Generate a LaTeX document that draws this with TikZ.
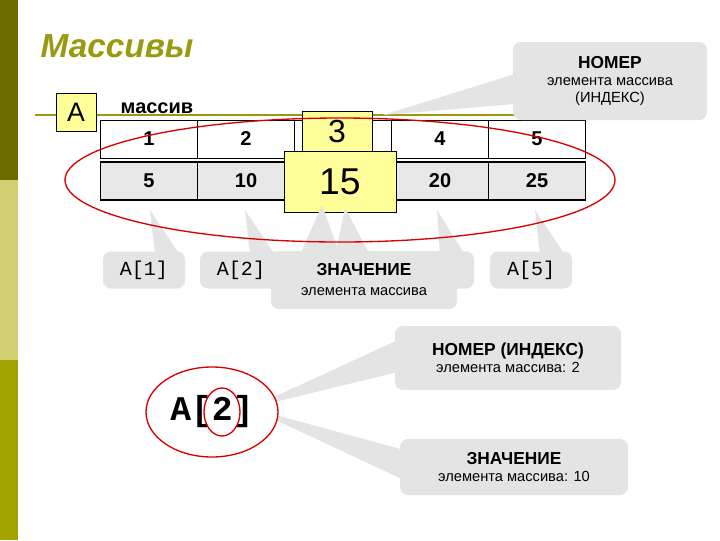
\documentclass[tikz,border=0pt]{standalone}
\usepackage{fontspec}
\setmainfont{Liberation Sans}
\newfontfamily\monof{Liberation Mono}
\definecolor{olivedark}{HTML}{6B6B00}
\definecolor{olivemid}{HTML}{D2D070}
\definecolor{olivebot}{HTML}{A3A300}
\definecolor{titlecol}{HTML}{9A9A10}
\definecolor{yel}{HTML}{FFFF99}
\definecolor{callg}{HTML}{E4E4E4}
\definecolor{cellg}{HTML}{E8E8E8}
\begin{document}
\begin{tikzpicture}[x=0.75pt,y=-0.75pt,
  cellbox/.style={draw=black,minimum width=97*0.75pt,minimum height=38*0.75pt,inner sep=0pt,font=\bfseries\fontsize{15}{15}\selectfont},
  valbox/.style={cellbox,fill=cellg,line width=1.2pt},
  hlbox/.style={draw=black,fill=yel,inner sep=0pt},
  callbox/.style={fill=callg,rounded corners=6pt,inner sep=0pt,align=center},
  tail/.style={fill=callg},
  redring/.style={draw=red!85!black,line width=1pt},
  small/.style={font=\fontsize{11}{13}\selectfont}]
\useasboundingbox (0,0) rectangle (720,540);
\fill[white] (0,0) rectangle (720,540);
\fill[olivedark] (0,0) rectangle (18,180);
\fill[olivemid] (0,180) rectangle (18,360);
\fill[olivebot] (0,360) rectangle (18,540);
\node[anchor=west,text=titlecol,font=\bfseries\itshape\fontsize{25}{25}\selectfont] (title) at (36,46) {Массивы};
% line and A
\draw[titlecol,line width=1.2pt] (35,115) -- (520,115);
\node[draw=black,fill=yel,minimum width=40*0.75pt,minimum height=38*0.75pt,inner sep=0pt,font=\fontsize{20}{20}\selectfont] (Abox) at (76,112) {A};
\node[anchor=west,font=\bfseries\fontsize{15}{15}\selectfont] (mass) at (116,108) {массив};
% index cells
\foreach \i/\x/\t in {1/149/1,2/246/2,3/343/,4/440/4,5/537/5}{
  \node[cellbox] (i\i) at (\x,139) {\t};
  \node[valbox] (v\i) at (\x,181) {};
}
\node[font=\bfseries\fontsize{15}{15}\selectfont] at (v1) {5};
\node[font=\bfseries\fontsize{15}{15}\selectfont] at (v2) {10};
\node[font=\bfseries\fontsize{15}{15}\selectfont] at (v4) {20};
\node[font=\bfseries\fontsize{15}{15}\selectfont] at (v5) {25};
\node[hlbox,minimum width=70*0.75pt,minimum height=40*0.75pt,font=\fontsize{24}{24}\selectfont] (h3) at (337,131) {3};
\node[hlbox,minimum width=112*0.75pt,minimum height=61*0.75pt,font=\fontsize{28}{28}\selectfont] (h15) at (340,182) {15};
% top callout
\coordinate (t0) at (383,115);
\node[callbox,minimum width=194*0.75pt,minimum height=78*0.75pt,small] (nom) at (610,81) {\textbf{\fontsize{13}{15}\selectfont НОМЕР}\\элемента массива\\(ИНДЕКС)};
\fill[tail] (t0) -- (515,74) -- (515,104) -- cycle;
% bottom callouts
\coordinate (c1) at (150,210); \coordinate (c2) at (245,210);
\coordinate (c4) at (437,210); \coordinate (c5) at (535,210);
\coordinate (c3a) at (322,205); \coordinate (c3b) at (345,208);
\fill[tail] (c1) -- (155,255) -- (180,255) -- cycle;
\fill[tail] (c2) -- (250,255) -- (275,255) -- cycle;
\fill[tail] (c4) -- (440,255) -- (465,255) -- cycle;
\fill[tail] (c5) -- (540,255) -- (565,255) -- cycle;
\node[callbox,minimum width=82*0.75pt,minimum height=37*0.75pt,font=\monof\fontsize{15}{15}\selectfont] (a1) at (144,270) {A[1]};
\node[callbox,minimum width=82*0.75pt,minimum height=37*0.75pt,font=\monof\fontsize{15}{15}\selectfont] (a2) at (241,270) {A[2]};
\node[callbox,minimum width=82*0.75pt,minimum height=37*0.75pt,font=\monof\fontsize{15}{15}\selectfont] (a4) at (433,270) {A[4]};
\node[callbox,minimum width=82*0.75pt,minimum height=37*0.75pt,font=\monof\fontsize{15}{15}\selectfont] (a5) at (531,270) {A[5]};
\fill[tail] (c3a) -- (300,255) -- (340,255) -- cycle;
\fill[tail] (c3b) -- (335,255) -- (370,255) -- cycle;
\node[callbox,minimum width=186*0.75pt,minimum height=58*0.75pt,small] (zn) at (364,280) {\textbf{\fontsize{13}{15}\selectfont ЗНАЧЕНИЕ}\\[2pt]элемента массива};
% big ellipse
\draw[redring] (340,180) ellipse [x radius=275,y radius=62];
% bottom part
\coordinate (b0) at (250,408);
\fill[tail] (b0) -- (398,340) -- (398,372) -- cycle;
\fill[tail] (b0) -- (404,450) -- (404,480) -- cycle;
\node[callbox,minimum width=226*0.75pt,minimum height=64*0.75pt,small] (bn) at (508,358) {\textbf{\fontsize{13}{15}\selectfont НОМЕР (ИНДЕКС)}\\элемента массива: 2};
\node[callbox,minimum width=228*0.75pt,minimum height=56*0.75pt,small] (bz) at (514,467) {\textbf{\fontsize{13}{15}\selectfont ЗНАЧЕНИЕ}\\элемента массива: 10};
\draw[redring,fill=white] (212,412) ellipse [x radius=66,y radius=45];
\node[font=\monof\bfseries\fontsize{26}{26}\selectfont,inner sep=0pt] (a2big) at (212,412) {A[2]};
\draw[redring] (222,412) ellipse [x radius=18,y radius=24];
\end{tikzpicture}
\end{document}
